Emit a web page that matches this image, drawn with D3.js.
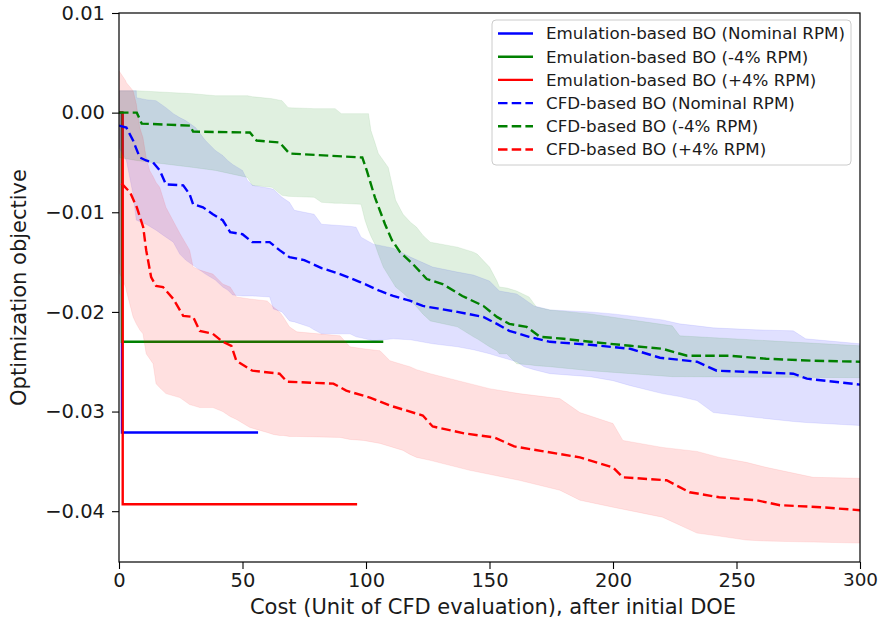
<!DOCTYPE html>
<html>
<head>
<meta charset="utf-8">
<script src="https://cdn.jsdelivr.net/npm/d3@7"></script>
<style>
  body { margin: 0; background: #fff; }
  text { font-family: "DejaVu Sans", sans-serif; fill: #1a1a1a; }
</style>
</head>
<body>
<svg id="chart" width="878" height="628"></svg>
<script>
// ---- data: cost (CFD evaluations after initial DOE) vs optimization objective ----
const xTicks = [0, 50, 100, 150, 200, 250, 300];
const yTicks = [0.01, 0.00, -0.01, -0.02, -0.03, -0.04];

const legendLabels = [
  "Emulation-based BO (Nominal RPM)",
  "Emulation-based BO (-4% RPM)",
  "Emulation-based BO (+4% RPM)",
  "CFD-based BO (Nominal RPM)",
  "CFD-based BO (-4% RPM)",
  "CFD-based BO (+4% RPM)"
];

// emulation-based runs: [cost, best objective]
const emuNominal = [[0, 0.0], [1.2, -0.0321], [56.3, -0.0321]];
const emuMinus4  = [[0, 0.0], [1.2, -0.0230], [107.0, -0.0230]];
const emuPlus4   = [[0, 0.0], [1.5, -0.0393], [96.4, -0.0393]];

// CFD-based runs, mean best objective: [cost, value]
const cfdNominal = [
  [0, -0.0013], [3, -0.0015], [5.7, -0.0028], [8.4, -0.0045], [11, -0.0048], [13.8, -0.0050],
  [16.5, -0.0058], [19, -0.0072], [26, -0.0073], [28.6, -0.0082], [30, -0.0092], [34, -0.0095],
  [38, -0.0102], [42, -0.0108], [45, -0.0120], [50, -0.0122], [54, -0.0130], [61, -0.0130],
  [65, -0.0138], [69, -0.0145], [75, -0.0148], [82, -0.0156], [89.5, -0.0162], [97.6, -0.0170],
  [105.7, -0.0179], [111, -0.0184], [118, -0.0189], [123, -0.0194], [137, -0.0200],
  [147.5, -0.0205], [153, -0.0212], [158, -0.0219], [166, -0.0225], [174.5, -0.0230],
  [190.7, -0.0233], [207, -0.0237], [219, -0.0246], [234, -0.0250], [242, -0.0259],
  [273, -0.0262], [278.5, -0.0267], [300, -0.0273]
];
const cfdMinus4 = [
  [0, 0.0], [7.2, 0.0], [9.2, -0.0011], [28.7, -0.0013], [30, -0.0019], [53, -0.0020],
  [55.7, -0.0028], [65, -0.0030], [69, -0.0041], [98.5, -0.0045], [100.3, -0.0058],
  [103.6, -0.0085], [107.7, -0.0112], [110.5, -0.0128], [113.8, -0.0140], [119, -0.0152],
  [124.6, -0.0167], [131, -0.0172], [139, -0.0184], [147.5, -0.0194], [153, -0.0205],
  [158, -0.0212], [165, -0.0215], [170.5, -0.0225], [180, -0.0227], [190.7, -0.0230],
  [207, -0.0234], [220, -0.0237], [230, -0.0244], [247, -0.0244], [262, -0.0247],
  [281, -0.0249], [300, -0.0250]
];
const cfdPlus4 = [
  [1, -0.0071], [4.5, -0.0080], [7.2, -0.0095], [9.8, -0.0115], [11, -0.0138], [13, -0.0165],
  [15, -0.0174], [17.8, -0.0175], [22, -0.0187], [26, -0.0204], [30, -0.0205], [32.7, -0.0219],
  [38, -0.0222], [42, -0.0230], [45.5, -0.0234], [47.5, -0.0249], [54, -0.0259], [65, -0.0262],
  [68, -0.0270], [86.8, -0.0272], [92, -0.0279], [101.6, -0.0286], [109.7, -0.0294],
  [123, -0.0304], [127, -0.0315], [140, -0.0322], [152, -0.0326], [160, -0.0335],
  [172, -0.0340], [186.6, -0.0346], [200, -0.0356], [204, -0.0366], [221.7, -0.0369],
  [231, -0.0381], [243, -0.0386], [258, -0.0389], [267.6, -0.0394], [284, -0.0396],
  [300, -0.0399]
];

// spread of the CFD-based runs: [cost, lower, upper]
const bandNominal = [
  [0, -0.0035, 0.0022], [3, -0.0048, 0.0022], [5.7, -0.0082, 0.0022], [7, -0.0108, 0.0022],
  [7.1, -0.0108, 0.0015], [11, -0.0112, 0.0013], [15, -0.0118, 0.0012], [19, -0.0125, 0.0005],
  [22, -0.0130, -0.0001], [24.6, -0.0142, -0.0005], [27, -0.0148, -0.0008], [31, -0.0155, -0.0015],
  [35, -0.0162, -0.0028], [39, -0.0168, -0.0038], [42, -0.0175, -0.0043], [44, -0.0178, -0.0048],
  [46, -0.0183, -0.0052], [50, -0.0184, -0.0058], [52, -0.0184, -0.0068], [54, -0.0184, -0.0073],
  [61, -0.0185, -0.0076], [62.5, -0.0197, -0.0077], [66, -0.0200, -0.0085], [69, -0.0209, -0.0090],
  [71, -0.0210, -0.0098], [77, -0.0215, -0.0101], [79, -0.0218, -0.0102], [82, -0.0222, -0.0112],
  [93.5, -0.0222, -0.0114], [96, -0.0225, -0.0115], [98, -0.0226, -0.0125], [103, -0.0229, -0.0132],
  [111, -0.0227, -0.0136], [118, -0.0228, -0.0145], [127, -0.0232, -0.0155], [137, -0.0235, -0.0160],
  [143.5, -0.0238, -0.0163], [150, -0.0242, -0.0169], [154, -0.0245, -0.0179], [161, -0.0250, -0.0182],
  [164, -0.0255, -0.0187], [168, -0.0258, -0.0194], [174.5, -0.0262, -0.0198], [190.7, -0.0265, -0.0200],
  [200, -0.0269, -0.0202], [207, -0.0274, -0.0204], [220, -0.0282, -0.0208], [227, -0.0285, -0.0212],
  [234, -0.0289, -0.0214], [240.6, -0.0301, -0.0216], [258, -0.0306, -0.0218], [273, -0.0310, -0.0219],
  [278, -0.0311, -0.0227], [300, -0.0314, -0.0232]
];
const bandMinus4 = [
  [0, -0.0045, 0.0022], [7, -0.0048, 0.0022], [30, -0.0055, 0.0019], [39, -0.0058, 0.0017],
  [52, -0.0065, 0.0017], [54, -0.0073, 0.0016], [62, -0.0075, 0.0014], [66, -0.0083, 0.0012],
  [68.5, -0.0084, 0.0005], [79, -0.0085, 0.0004], [82, -0.0090, 0.0004], [87.5, -0.0091, 0.0004],
  [90, -0.0091, -0.0001], [98, -0.0092, -0.0001], [99.6, -0.0108, -0.0001], [101, -0.0118, -0.0001],
  [102, -0.0124, -0.0018], [103.6, -0.0132, -0.0030], [105, -0.0142, -0.0041], [107, -0.0155, -0.0048],
  [109, -0.0163, -0.0055], [112, -0.0175, -0.0088], [115, -0.0181, -0.0102], [118, -0.0188, -0.0110],
  [120.5, -0.0195, -0.0115], [123, -0.0202, -0.0123], [126, -0.0209, -0.0130], [137, -0.0215, -0.0135],
  [143.5, -0.0225, -0.0140], [145, -0.0227, -0.0142], [150, -0.0235, -0.0155], [153, -0.0239, -0.0169],
  [154, -0.0242, -0.0175], [157, -0.0242, -0.0176], [161, -0.0252, -0.0179], [166, -0.0253, -0.0185],
  [169, -0.0254, -0.0195], [174.5, -0.0255, -0.0198], [190.7, -0.0259, -0.0202], [224, -0.0265, -0.0214],
  [227, -0.0265, -0.0224], [300, -0.0266, -0.0234]
];
const bandPlus4 = [
  [0, -0.0160, 0.0042], [2.7, -0.0175, 0.0032], [3, -0.0179, 0.0030], [5.7, -0.0205, 0.0022],
  [7, -0.0212, 0.0009], [8.4, -0.0218, -0.0015], [9.7, -0.0222, -0.0025], [11, -0.0242, -0.0045],
  [12.4, -0.0247, -0.0058], [13.8, -0.0252, -0.0064], [15, -0.0272, -0.0070], [16.5, -0.0276, -0.0075],
  [19, -0.0282, -0.0095], [24.6, -0.0286, -0.0121], [28.6, -0.0293, -0.0138], [30, -0.0294, -0.0155],
  [32.7, -0.0296, -0.0158], [38, -0.0296, -0.0162], [42, -0.0300, -0.0172], [45, -0.0305, -0.0175],
  [47.6, -0.0308, -0.0185], [53, -0.0316, -0.0187], [60, -0.0321, -0.0189], [62.5, -0.0323, -0.0195],
  [65, -0.0324, -0.0200], [66.5, -0.0324, -0.0205], [69, -0.0325, -0.0215], [72, -0.0325, -0.0220],
  [89.5, -0.0326, -0.0224], [93.5, -0.0328, -0.0235], [99, -0.0329, -0.0237], [105.7, -0.0332, -0.0239],
  [109.7, -0.0335, -0.0249], [115, -0.0339, -0.0253], [117.8, -0.0343, -0.0255], [120.5, -0.0346, -0.0258],
  [126, -0.0349, -0.0262], [134, -0.0354, -0.0267], [142, -0.0359, -0.0272], [150, -0.0363, -0.0277],
  [162, -0.0369, -0.0282], [178.5, -0.0379, -0.0287], [186.6, -0.0389, -0.0301], [200, -0.0396, -0.0312],
  [204, -0.0398, -0.0329], [220, -0.0406, -0.0336], [234, -0.0422, -0.0340], [243, -0.0425, -0.0346],
  [254, -0.0429, -0.0351], [262, -0.0430, -0.0356], [281, -0.0431, -0.0366], [300, -0.0432, -0.0367]
];

// ---- layout ----
const svg = d3.select("#chart");
const x = d3.scaleLinear().domain([0, 300]).range([119, 860]);
const y = d3.scaleLinear().domain([-0.0451, 0.01]).range([562, 13]);

const BLUE = "#0000ff", GREEN = "#008000", RED = "#ff0000";

svg.append("defs").append("clipPath").attr("id", "plot-clip")
  .append("rect").attr("x", 119).attr("y", 13).attr("width", 741).attr("height", 549);

const plot = svg.append("g").attr("clip-path", "url(#plot-clip)");

const line = d3.line().x(d => x(d[0])).y(d => y(d[1]));
const stepLine = d3.line().x(d => x(d[0])).y(d => y(d[1])).curve(d3.curveStepAfter);
const area = d3.area().x(d => x(d[0])).y0(d => y(d[1])).y1(d => y(d[2]));

// emulation-based runs (solid)
[[emuNominal, BLUE], [emuMinus4, GREEN], [emuPlus4, RED]].forEach(([data, c]) => {
  plot.append("path").datum(data).attr("d", stepLine)
    .attr("fill", "none").attr("stroke", c).attr("stroke-width", 2.4);
});

// CFD-based runs: shaded spread, then dashed mean
[[bandNominal, BLUE], [bandMinus4, GREEN], [bandPlus4, RED]].forEach(([band, c]) => {
  plot.append("path").datum(band).attr("d", area)
    .attr("fill", c).attr("fill-opacity", 0.12)
    .attr("stroke", c).attr("stroke-opacity", 0.08).attr("stroke-width", 1);
});
[[cfdNominal, BLUE], [cfdMinus4, GREEN], [cfdPlus4, RED]].forEach(([mean, c]) => {
  plot.append("path").datum(mean).attr("d", line)
    .attr("fill", "none").attr("stroke", c).attr("stroke-width", 2.4)
    .attr("stroke-dasharray", "9.5,4.2");
});

// ---- axes ----
const xAxis = svg.append("g").attr("transform", "translate(0,562)")
  .call(d3.axisBottom(x).tickValues(xTicks).tickSize(7).tickPadding(4).tickFormat(d3.format("d")));
const yAxis = svg.append("g").attr("transform", "translate(119,0)")
  .call(d3.axisLeft(y).tickValues(yTicks).tickSize(7).tickPadding(7).tickFormat(d3.format(".2f")));
[xAxis, yAxis].forEach(g => {
  g.select(".domain").remove();
  g.selectAll(".tick line").attr("stroke", "#000").attr("stroke-width", 1.1);
  g.selectAll(".tick text").attr("font-size", 19.5).attr("font-family", "DejaVu Sans").attr("fill", "#1a1a1a");
});
// keep the last x label inside the page edge
xAxis.selectAll(".tick text").filter(d => d === 300).attr("font-size", 18.4);

// frame
svg.append("rect").attr("x", 119).attr("y", 13).attr("width", 741).attr("height", 549)
  .attr("fill", "none").attr("stroke", "#000").attr("stroke-width", 1.2);

// axis titles
svg.append("text").attr("x", 493).attr("y", 614).attr("text-anchor", "middle")
  .attr("font-size", 21).text("Cost (Unit of CFD evaluation), after initial DOE");
svg.append("text").attr("transform", "translate(26,287.5) rotate(-90)").attr("text-anchor", "middle")
  .attr("font-size", 21).text("Optimization objective");

// ---- legend ----
const legend = svg.append("g");
legend.append("rect").attr("x", 492).attr("y", 20).attr("width", 359).attr("height", 145)
  .attr("rx", 4).attr("fill", "#fff").attr("fill-opacity", 0.8)
  .attr("stroke", "#cccccc").attr("stroke-width", 1);
const legendColors = [BLUE, GREEN, RED, BLUE, GREEN, RED];
legendLabels.forEach((label, i) => {
  const cy = 33.5 + i * 23.2;
  legend.append("line").attr("x1", 498).attr("x2", 533).attr("y1", cy).attr("y2", cy)
    .attr("stroke", legendColors[i]).attr("stroke-width", 2.4)
    .attr("stroke-dasharray", i >= 3 ? "9.5,4.2" : null);
  legend.append("text").attr("x", 546).attr("y", cy).attr("dy", "0.35em")
    .attr("font-size", 16.7).text(label);
});
</script>
</body>
</html>
